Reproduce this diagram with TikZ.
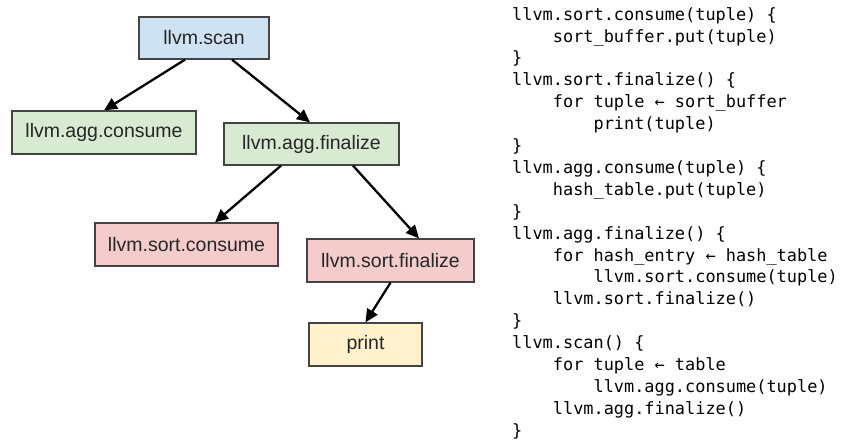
\documentclass[tikz,border=0pt]{standalone}
\usepackage{fontspec}
\setmainfont{Liberation Sans}
\newfontfamily\codefont{DejaVu Sans Mono}
\usetikzlibrary{arrows.meta,calc}
\definecolor{cblue}{HTML}{CFE2F3}
\definecolor{cgreen}{HTML}{D9EAD3}
\definecolor{cred}{HTML}{F4CCCC}
\definecolor{cyellow}{HTML}{FFF2CC}
\definecolor{cborder}{HTML}{444444}
\begin{document}
\begin{tikzpicture}[x=1pt,y=-1pt,
  opbox/.style={draw=cborder,line width=1.3pt,inner sep=0pt,minimum height=43pt,
    font=\fontsize{19.5}{22}\selectfont,text=black!85},
  flow/.style={line width=2.3pt,-{Triangle[length=13pt,width=12pt]}},
  code/.style={anchor=north west,inner sep=0pt,align=left,
    font=\codefont\fontsize{16.9}{21.9}\selectfont}]
\useasboundingbox (0,0) rectangle (841,442);
\node[opbox,fill=cblue,minimum width=130pt,minimum height=42pt] (scan) at (204,38) {llvm.scan};
\node[opbox,fill=cgreen,minimum width=184pt] (aggc) at (104,132.5) {llvm.agg.consume};
\node[opbox,fill=cgreen,minimum width=175pt,minimum height=42pt] (aggf) at (311.5,144) {llvm.agg.finalize};
\node[opbox,fill=cred,minimum width=183pt] (sortc) at (186.5,244.5) {llvm.sort.consume};
\node[opbox,fill=cred,minimum width=167pt] (sortf) at (390.5,260.5) {llvm.sort.finalize};
\node[opbox,fill=cyellow,minimum width=113pt] (print) at (365.5,344.5) {print};
\draw[flow] ([xshift=-19pt]scan.south) -- (aggc.north);
\draw[flow] ([xshift=28pt]scan.south) -- ([xshift=-1.5pt]aggf.north);
\draw[flow] ([xshift=-30.5pt]aggf.south) -- ([xshift=28.5pt]sortc.north);
\draw[flow] ([xshift=41.5pt]aggf.south) -- ([xshift=28.5pt]sortf.north);
\draw[flow] (sortf.south) -- (print.north);
\node[code] (src) at (512,7) {%
llvm.sort.consume(tuple) \{\\
\phantom{0000}sort\_buffer.put(tuple)\\
\}\\
llvm.sort.finalize() \{\\
\phantom{0000}for tuple ← sort\_buffer\\
\phantom{00000000}print(tuple)\\
\}\\
llvm.agg.consume(tuple) \{\\
\phantom{0000}hash\_table.put(tuple)\\
\}\\
llvm.agg.finalize() \{\\
\phantom{0000}for hash\_entry ← hash\_table\\
\phantom{00000000}llvm.sort.consume(tuple)\\
\phantom{0000}llvm.sort.finalize()\\
\}\\
llvm.scan() \{\\
\phantom{0000}for tuple ← table\\
\phantom{00000000}llvm.agg.consume(tuple)\\
\phantom{0000}llvm.agg.finalize()\\
\}};
\end{tikzpicture}
\end{document}
